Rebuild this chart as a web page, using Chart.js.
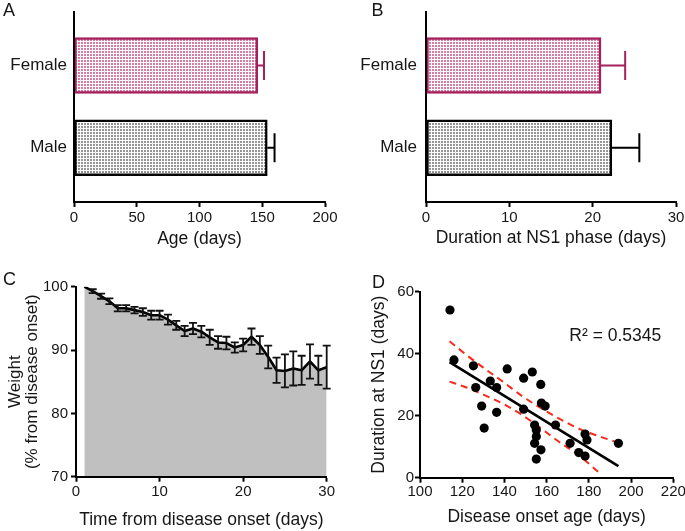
<!DOCTYPE html>
<html>
<head>
<meta charset="utf-8">
<script src="https://cdn.jsdelivr.net/npm/chart.js@4.4.1/dist/chart.umd.min.js"></script>
<style>
html, body { margin: 0; padding: 0; background: #fff; }
#wrap { position: relative; width: 685px; height: 531px; overflow: hidden; background: #fff; }
#wrap canvas { position: absolute; left: 0; top: 0; }
</style>
</head>
<body>
<div id="wrap">
  <canvas id="cA" width="685" height="531"></canvas>
  <canvas id="cB" width="685" height="531"></canvas>
  <canvas id="cC" width="685" height="531"></canvas>
  <canvas id="cD" width="685" height="531"></canvas>
</div>
<script>
// ---------------- DATA ----------------
// Panels A and B
const categories = ['Female', 'Male'];
const ageMean = [146.4, 154.0];
const ageSem = [5.0, 5.8];
const ageTicks = [0, 50, 100, 150, 200];
const ns1Mean = [21.0, 22.3];
const ns1Sem = [2.9, 3.3];
const ns1Ticks = [0, 10, 20, 30];

// Panel C
const days = [1, 2, 3, 4, 5, 6, 7, 8, 9, 10, 11, 12, 13, 14, 15, 16, 17, 18, 19, 20, 21, 22, 23, 24, 25, 26, 27, 28, 29, 30];
const weightMean = [100, 99.3, 98.5, 97.7, 96.6, 96.6, 96.3, 96.0, 95.5, 95.5, 94.8, 93.9, 93.0, 93.4, 92.9, 92.0, 91.2, 91.1, 90.4, 90.8, 92.1, 90.8, 88.9, 86.8, 86.7, 87.1, 86.8, 88.2, 86.8, 87.3];
const weightSem = [0, 0.3, 0.4, 0.45, 0.5, 0.5, 0.5, 0.6, 0.7, 0.7, 0.8, 0.7, 0.8, 0.9, 0.9, 1.2, 1.0, 1.0, 0.8, 1.0, 1.3, 1.4, 1.8, 2.0, 2.6, 2.7, 2.3, 2.7, 2.3, 3.4];
const dayTicks = [0, 10, 20, 30];
const weightTicks = [70, 80, 90, 100];

// Panel D
const onsetAge = [114.2, 116.1, 125.3, 126.4, 129.2, 130.4, 133.3, 136.3, 136.3, 141.3, 149.1, 149.1, 153.2, 157.2, 157.5, 159.3, 154.3, 155.1, 155.1, 154.3, 157.3, 155.1, 164.2, 171.1, 175.2, 178.2, 178.2, 179.1, 194.0];
const ns1Duration = [54.1, 38.0, 36.1, 29.1, 23.1, 16.0, 31.2, 29.1, 21.1, 35.1, 32.1, 22.1, 34.1, 30.1, 24.1, 23.1, 17.0, 15.4, 13.3, 11.1, 9.0, 6.0, 17.0, 11.1, 8.1, 7.0, 14.1, 12.2, 11.1];
const fitAge = [114, 194];
const fitDuration = [37.3, 3.7];
const upperAge = [114, 122, 130, 140, 148, 156, 165, 176, 186, 194];
const upperBand = [44.0, 39.6, 35.5, 30.6, 26.5, 23.0, 19.4, 15.6, 13.1, 11.3];
const lowerAge = [114, 122, 130, 140, 148, 156, 165, 176, 186];
const lowerBand = [31.0, 29.1, 26.8, 23.6, 20.4, 16.6, 12.0, 6.8, 0.9];
const onsetTicks = [100, 120, 140, 160, 180, 200, 220];
const durationTicks = [0, 20, 40, 60];
const r2Label = 'R\u00B2 = 0.5345';

// ---------------- STYLE ----------------
const W = 685, H = 531;
const FONT = "'Liberation Sans', Arial, Helvetica, sans-serif";
const INK = '#161616';
const FEMALE = '#a6205d';
const MALE = '#000000';
const RED = '#f8281a';

function makePattern(dot) {
  const c = document.createElement('canvas');
  c.width = 3; c.height = 3;
  const g = c.getContext('2d');
  g.fillStyle = '#ffffff'; g.fillRect(0, 0, 3, 3);
  g.fillStyle = dot; g.fillRect(0, 0, 2, 2);
  return g.createPattern(c, 'repeat');
}

function fixedTicks(values) {
  return s => { s.ticks = values.map(v => ({ value: v })); };
}

function textPlugin(items) {
  return {
    id: 'panelText',
    afterDraw(chart) {
      const ctx = chart.ctx;
      ctx.save();
      ctx.fillStyle = INK;
      ctx.textBaseline = 'alphabetic';
      ctx.textAlign = 'left';
      items.forEach(it => {
        ctx.font = it.size + 'px ' + FONT;
        ctx.fillText(it.text, it.x, it.y);
      });
      ctx.restore();
    }
  };
}

function hErrPlugin(means, sems, colors) {
  return {
    id: 'hErr',
    afterDatasetsDraw(chart) {
      const ctx = chart.ctx, xs = chart.scales.x;
      const meta = chart.getDatasetMeta(0);
      meta.data.forEach((bar, i) => {
        const x0 = xs.getPixelForValue(means[i]);
        const x1 = xs.getPixelForValue(means[i] + sems[i]);
        ctx.save();
        ctx.strokeStyle = colors[i];
        ctx.lineWidth = 2;
        ctx.beginPath();
        ctx.moveTo(x0, bar.y); ctx.lineTo(x1, bar.y);
        ctx.moveTo(x1, bar.y - 14.5); ctx.lineTo(x1, bar.y + 14.5);
        ctx.stroke();
        ctx.restore();
      });
    }
  };
}

function vErrPlugin(xsVals, means, sems) {
  return {
    id: 'vErr',
    afterDatasetsDraw(chart) {
      const ctx = chart.ctx, xs = chart.scales.x, ys = chart.scales.y;
      ctx.save();
      ctx.strokeStyle = '#111';
      ctx.lineWidth = 1.8;
      ctx.beginPath();
      xsVals.forEach((d, i) => {
        if (!sems[i]) return;
        const px = xs.getPixelForValue(d);
        const yt = ys.getPixelForValue(means[i] + sems[i]);
        const yb = ys.getPixelForValue(means[i] - sems[i]);
        ctx.moveTo(px, yt); ctx.lineTo(px, yb);
        ctx.moveTo(px - 4, yt); ctx.lineTo(px + 4, yt);
        ctx.moveTo(px - 4, yb); ctx.lineTo(px + 4, yb);
      });
      ctx.stroke();
      ctx.restore();
    }
  };
}

function axisX(area, ticks, title, titleCenterY, tickPad) {
  return {
    type: 'linear', position: 'bottom', offset: false,
    min: ticks[0], max: ticks[ticks.length - 1],
    afterBuildTicks: fixedTicks(ticks),
    afterFit: s => { s.height = H - area.bottom; s.paddingLeft = 0; s.paddingRight = 0; },
    grid: { display: true, offset: false, drawOnChartArea: false, drawTicks: true, tickLength: 5, tickWidth: 2, color: '#000' },
    border: { display: true, color: '#000', width: 2, z: 1 },
    ticks: { color: INK, font: { family: FONT, size: 15 }, padding: tickPad, maxRotation: 0, autoSkip: false },
    title: { display: true, text: title, color: INK, font: { family: FONT, size: 17.5, lineHeight: 1.2 },
             padding: { top: 0, bottom: Math.max(0, H - titleCenterY - 10.5) } }
  };
}

function axisY(area, ticks, tickPad, title, titleFont, titleCenterX) {
  const o = {
    type: 'linear', position: 'left', offset: false,
    min: ticks[0], max: ticks[ticks.length - 1],
    afterBuildTicks: fixedTicks(ticks),
    afterFit: s => { s.width = area.left; s.paddingTop = 0; s.paddingBottom = 0; },
    grid: { display: true, offset: false, drawOnChartArea: false, drawTicks: true, tickLength: 5, tickWidth: 2, color: '#000' },
    border: { display: true, color: '#000', width: 2, z: 1 },
    ticks: { color: INK, font: { family: FONT, size: 15 }, padding: tickPad, autoSkip: false }
  };
  if (title) {
    o.title = { display: true, text: title, color: INK, font: titleFont,
                padding: { top: titleCenterX - titleFont.size * titleFont.lineHeight / 2, bottom: 0 } };
  }
  return o;
}

function baseOptions(area) {
  return {
    responsive: false, animation: false, devicePixelRatio: 1,
    layout: { padding: { left: 0, top: area.top, right: W - area.right, bottom: 0 } },
    plugins: { legend: { display: false }, tooltip: { enabled: false } }
  };
}

// ---------------- BAR PANELS (A, B) ----------------
function barPanel(id, area, means, sems, ticks, xTitle, xTitleY, labelPad, letter) {
  const opts = baseOptions(area);
  opts.indexAxis = 'y';
  opts.scales = {
    x: axisX(area, ticks, xTitle, xTitleY, 2),
    y: {
      type: 'linear', position: 'left', reverse: true, offset: false, min: 0.35, max: 2.66,
      afterBuildTicks: s => { s.ticks = categories.map((c, i) => ({ value: i + 1 })); },
      afterFit: s => { s.width = area.left; s.paddingTop = 0; s.paddingBottom = 0; },
      grid: { display: false, offset: false, drawTicks: false },
      border: { display: true, color: '#000', width: 2, z: 1 },
      ticks: { color: INK, font: { family: FONT, size: 17 }, padding: labelPad, autoSkip: false,
               callback: v => categories[v - 1] }
    }
  };
  return new Chart(document.getElementById(id), {
    type: 'bar',
    data: {
      datasets: [{
        data: categories.map((c, i) => ({ x: means[i], y: i + 1 })),
        backgroundColor: [makePattern('#d67aa6'), makePattern('#969696')],
        borderColor: [FEMALE, MALE],
        borderWidth: 2.5,
        borderSkipped: false,
        barThickness: 56
      }]
    },
    options: opts,
    plugins: [hErrPlugin(means, sems, [FEMALE, MALE]), textPlugin([{ text: letter.t, x: letter.x, y: letter.y, size: 18 }])]
  });
}

barPanel('cA', { left: 74, top: 12, right: 325, bottom: 202 }, ageMean, ageSem, ageTicks,
         'Age (days)', 239, 7, { t: 'A', x: 3, y: 16 });
barPanel('cB', { left: 426, top: 12, right: 676, bottom: 202 }, ns1Mean, ns1Sem, ns1Ticks,
         'Duration at NS1 phase (days)', 238, 9, { t: 'B', x: 371.5, y: 16 });

// ---------------- PANEL C ----------------
(function () {
  const area = { left: 76, top: 286.7, right: 326.7, bottom: 476.7 };
  const opts = baseOptions(area);
  opts.scales = {
    x: axisX(area, dayTicks, 'Time from disease onset (days)', 520.5, 1),
    y: axisY(area, weightTicks, 3, ['Weight', '(% from disease onset)'],
             { family: FONT, size: 17, lineHeight: 1 }, 15.3)
  };
  new Chart(document.getElementById('cC'), {
    type: 'line',
    data: {
      datasets: [{
        data: days.map((d, i) => ({ x: d, y: weightMean[i] })),
        borderColor: '#000', borderWidth: 2.6, borderJoinStyle: 'round',
        pointRadius: 0, tension: 0,
        fill: 'start', backgroundColor: '#c0c0c0'
      }]
    },
    options: opts,
    plugins: [vErrPlugin(days, weightMean, weightSem), textPlugin([{ text: 'C', x: 3, y: 285, size: 18 }])]
  });
})();

// ---------------- PANEL D ----------------
(function () {
  const area = { left: 420, top: 291.7, right: 673.3, bottom: 477.7 };
  const opts = baseOptions(area);
  opts.scales = {
    x: axisX(area, onsetTicks, 'Disease onset age (days)', 516.7, 0),
    y: axisY(area, durationTicks, 1, 'Duration at NS1 (days)',
             { family: FONT, size: 17.5, lineHeight: 1.2 }, 379.3)
  };
  new Chart(document.getElementById('cD'), {
    type: 'scatter',
    data: {
      datasets: [
        { type: 'scatter', data: onsetAge.map((a, i) => ({ x: a, y: ns1Duration[i] })),
          pointRadius: 4.6, pointBackgroundColor: '#000', pointBorderWidth: 0, borderWidth: 0 },
        { type: 'line', data: fitAge.map((a, i) => ({ x: a, y: fitDuration[i] })),
          borderColor: '#000', borderWidth: 2.6, pointRadius: 0, fill: false, tension: 0 },
        { type: 'line', data: upperAge.map((a, i) => ({ x: a, y: upperBand[i] })),
          borderColor: RED, borderWidth: 2, borderDash: [7, 5], pointRadius: 0, fill: false,
          cubicInterpolationMode: 'monotone' },
        { type: 'line', data: lowerAge.map((a, i) => ({ x: a, y: lowerBand[i] })),
          borderColor: RED, borderWidth: 2, borderDash: [7, 5], pointRadius: 0, fill: false,
          cubicInterpolationMode: 'monotone' }
      ]
    },
    options: opts,
    plugins: [textPlugin([
      { text: 'D', x: 372, y: 288.3, size: 18 },
      { text: r2Label, x: 569.3, y: 340.5, size: 17.5 }
    ])]
  });
})();
</script>
</body>
</html>
